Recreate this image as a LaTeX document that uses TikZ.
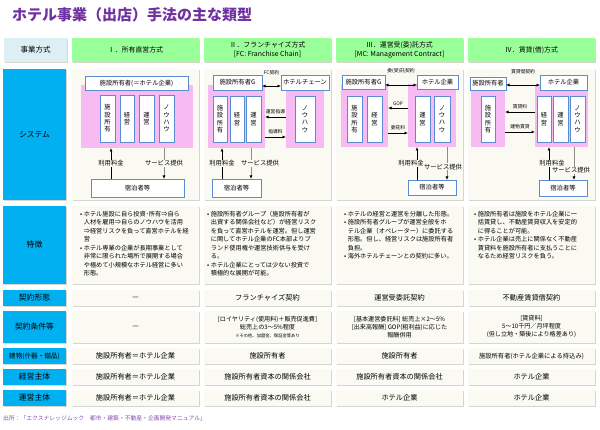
\documentclass[tikz,border=0pt]{standalone}
\usepackage{fontspec}
\setmainfont{Noto Sans CJK JP}
\usetikzlibrary{arrows.meta,shadows}
\definecolor{ttlpurple}{HTML}{7030A0}
\definecolor{hgreen}{HTML}{99FF99}
\definecolor{lblue}{HTML}{DDEEF5}
\definecolor{cyanlbl}{HTML}{00B0F0}
\definecolor{cream}{HTML}{FAFAF2}
\definecolor{pinkbg}{HTML}{F5BBF2}
\definecolor{boxblue}{HTML}{5B8BD0}
\definecolor{shadowg}{HTML}{D6D6CE}
\newcommand\mkbox[7]{\node[#2, minimum width={(#5-#3)*1pt}, minimum height={(#6-#4)*1pt}] (#1) at ({(#3+#5)/2},{(#4+#6)/2}) {#7};}
\newcommand\mkfeat[3]{\node[anchor=north west, inner sep=0pt, font=\fontsize{6.2}{8.5}\selectfont] (#1) at (#2,210) {\begin{tabular}{@{}l@{\hspace{1.5pt}}l@{}}#3\end{tabular}};}
\begin{document}
\begin{tikzpicture}[x=1pt,y=-1pt,
  cellbase/.style={rectangle, inner sep=1pt, outer sep=0pt, align=center,
    drop shadow={shadow xshift=1.3pt, shadow yshift=-1.3pt, fill=shadowg, opacity=1}},
  cell/.style={cellbase, fill=cream, font=\fontsize{7.2}{9}\selectfont},
  jcell/.style={cellbase, fill=cream, font=\fontsize{6.1}{8}\selectfont},
  hdr/.style={cellbase, fill=hgreen, font=\fontsize{6.9}{9}\selectfont},
  hdrz/.style={cellbase, fill=lblue, font=\fontsize{7.5}{9}\selectfont},
  lbl/.style={cellbase, fill=cyanlbl, font=\fontsize{7.8}{9}\selectfont},
  pinkarea/.style={rectangle, fill=pinkbg, inner sep=0pt, outer sep=0pt},
  wbox/.style={rectangle, draw=boxblue, line width=0.6pt, fill=white, inner sep=0pt, outer sep=0pt, font=\fontsize{6.3}{7.4}\selectfont, align=center},
  alab/.style={font=\fontsize{6.3}{7}\selectfont, inner sep=0.6pt, fill=cream},
  slab/.style={font=\fontsize{4.8}{6}\selectfont, inner sep=0.3pt},
  arr/.style={-{Latex[length=3.5pt,width=3pt]}, line width=0.7pt},
  darr/.style={{Latex[length=3.5pt,width=3pt]}-{Latex[length=3.5pt,width=3pt]}, line width=0.7pt},
  garr/.style={-{Latex[length=3.5pt,width=3pt,color=black]}, line width=0.8pt, draw=black!45}]
\useasboundingbox[fill=white] (0,0) rectangle (600,430);

% title
\node[anchor=west, inner sep=0pt, font=\fontsize{15}{17}\selectfont\bfseries, text=ttlpurple] (title) at (12,15) {ホテル事業（出店）手法の主な類型};

% header row
\mkbox{h0}{hdrz}{4}{38}{67}{62}{事業方式}
\mkbox{h1}{hdr}{72}{38}{199}{62}{Ⅰ．所有直営方式}
\mkbox{h2}{hdr}{204}{38}{331}{62}{Ⅱ．フランチャイズ方式\\{[}FC: Franchise Chain]}
\mkbox{h3}{hdr}{336}{38}{463}{62}{Ⅲ．運営受(委)託方式\\{[}MC: Management Contract]}
\mkbox{h4}{hdr}{468}{38}{595}{62}{Ⅳ．賃貸(借)方式}

% left labels
\mkbox{lsys}{lbl}{3}{69}{66}{200}{システム}
\mkbox{lfeat}{lbl}{3}{206}{66}{284}{特徴}
\mkbox{lk}{lbl}{3}{290}{66}{306}{契約形態}
\mkbox{lj}{lbl}{3}{311}{66}{343}{契約条件等}
\mkbox{lt}{lbl,font=\fontsize{6.6}{8}\selectfont}{3}{348}{66}{364}{建物(什器・備品)}
\mkbox{lke}{lbl}{3}{369}{66}{385}{経営主体}
\mkbox{lu}{lbl}{3}{390}{66}{406}{運営主体}

% system cells and feature cells
\mkbox{s1}{cell}{72}{69}{199}{200}{}
\mkbox{s2}{cell}{204}{69}{331}{200}{}
\mkbox{s3}{cell}{336}{69}{463}{200}{}
\mkbox{s4}{cell}{468}{69}{595}{200}{}
\mkbox{f1}{cell}{72}{206}{199}{284}{}
\mkbox{f2}{cell}{204}{206}{331}{284}{}
\mkbox{f3}{cell}{336}{206}{463}{284}{}
\mkbox{f4}{cell}{468}{206}{595}{284}{}

% contract rows
\mkbox{k1}{cell}{72}{290}{199}{306}{—}
\mkbox{k2}{cell}{204}{290}{331}{306}{フランチャイズ契約}
\mkbox{k3}{cell}{336}{290}{463}{306}{運営受委託契約}
\mkbox{k4}{cell}{468}{290}{595}{306}{不動産賃貸借契約}
\mkbox{j1}{cell}{72}{311}{199}{343}{—}
\mkbox{j2}{jcell}{204}{311}{331}{343}{[ロイヤリティ(使用料)＋販売促進費]\\総売上の3～5\%程度\\{\fontsize{4.3}{5.5}\selectfont ※その他、加盟金、保証金等あり}}
\mkbox{j3}{jcell}{336}{311}{463}{343}{[基本運営委託料] 総売上×2～5\%\\{[}出来高報酬] GOP(粗利益)に応じた\\報酬併用}
\mkbox{j4}{jcell}{468}{311}{595}{343}{[賃貸料]\\5～10千円／月坪程度\\(但し立地・築後により格差あり)}
\mkbox{t1}{cell}{72}{348}{199}{364}{施設所有者＝ホテル企業}
\mkbox{t2}{cell}{204}{348}{331}{364}{施設所有者}
\mkbox{t3}{cell}{336}{348}{463}{364}{施設所有者}
\mkbox{t4}{cell,font=\fontsize{6.3}{8}\selectfont}{468}{348}{595}{364}{施設所有者(ホテル企業による持込み)}
\mkbox{e1}{cell}{72}{369}{199}{385}{施設所有者＝ホテル企業}
\mkbox{e2}{cell}{204}{369}{331}{385}{施設所有者資本の関係会社}
\mkbox{e3}{cell}{336}{369}{463}{385}{施設所有者資本の関係会社}
\mkbox{e4}{cell}{468}{369}{595}{385}{ホテル企業}
\mkbox{u1}{cell}{72}{390}{199}{406}{施設所有者＝ホテル企業}
\mkbox{u2}{cell}{204}{390}{331}{406}{施設所有者資本の関係会社}
\mkbox{u3}{cell}{336}{390}{463}{406}{ホテル企業}
\mkbox{u4}{cell}{468}{390}{595}{406}{ホテル企業}

% features
\mkfeat{ft1}{80}{•&ホテル施設に自ら投資･所有⇒自ら\\&人材を雇用⇒自らのノウハウを活用\\&⇒経営リスクを負って直営ホテルを経\\&営\\•&ホテル専業の企業が長期事業として\\&非常に限られた場所で展開する場合\\&や極めて小規模なホテル経営に多い\\&形態。}
\mkfeat{ft2}{207}{•&施設所有者グループ（施設所有者が\\&出資する関係会社など）が経営リスク\\&を負って直営ホテルを運営。但し運営\\&に関してホテル企業のFC本部よりブ\\&ランド使用権や運営技術供与を受け\\&る。\\•&ホテル企業にとっては少ない投資で\\&積極的な展開が可能。}
\mkfeat{ft3}{344}{•&ホテルの経営と運営を分離した形態。\\•&施設所有者グループが運営全般をホ\\&テル企業（オペレーター）に委託する\\&形態。但し、経営リスクは施設所有者\\&負担。\\•&海外ホテルチェーンとの契約に多い。}
\mkfeat{ft4}{474}{•&施設所有者は施設をホテル企業に一\\&括賃貸し、不動産賃貸収入を安定的\\&に得ることが可能。\\•&ホテル企業は売上に関係なく不動産\\&賃貸料を施設所有者に支払うことに\\&なるため経営リスクを負う。}

% ===== system column 1
\mkbox{p1}{pinkarea}{81}{85}{193}{148}{}
\mkbox{o1}{wbox}{85}{76}{188}{90}{施設所有者(＝ホテル企業)}
\mkbox{v1a}{wbox}{100}{95}{115}{142}{施\\設\\所\\有}
\mkbox{v1b}{wbox}{120}{95}{134}{142}{経\\営}
\mkbox{v1c}{wbox}{139}{95}{154}{142}{運\\営}
\mkbox{v1d}{wbox}{159}{95}{174}{142}{ノ\\ウ\\ハ\\ウ}
\mkbox{g1}{wbox}{91}{179}{184}{197}{宿泊者等}
\coordinate (x1u) at (111,0);
\coordinate (x1d) at (164,0);
\draw[arr] (g1.north -| x1u) -- (p1.south -| x1u) node[alab, midway]{利用料金};
\draw[garr] (p1.south -| x1d) -- (g1.north -| x1d) node[alab, midway]{サービス提供};

% ===== system column 2
\mkbox{p2l}{pinkarea}{208}{85}{265}{148}{}
\mkbox{p2r}{pinkarea}{286}{85}{324}{148}{}
\mkbox{o2}{wbox}{213}{75}{262}{90}{施設所有者G}
\mkbox{c2}{wbox}{281}{75}{329}{90}{ホテルチェーン}
\mkbox{v2a}{wbox}{213}{96}{227}{142}{施\\設\\所\\有}
\mkbox{v2b}{wbox}{230}{96}{244}{142}{経\\営}
\mkbox{v2c}{wbox}{246}{96}{261}{142}{運\\営}
\mkbox{v2d}{wbox}{295}{96}{315}{142}{ノ\\ウ\\ハ\\ウ}
\mkbox{g2}{wbox}{212}{179}{261}{197}{宿泊者等}
\coordinate (y2t) at (0,86);
\coordinate (y2a) at (0,117);
\coordinate (y2b) at (0,137);
\coordinate (x2u) at (222,0);
\coordinate (x2d) at (251,0);
\draw[darr] (o2.east |- y2t) -- (c2.west |- y2t) node[slab, midway, yshift=13pt]{FC契約};
\draw[arr] (p2r.west |- y2a) -- (p2l.east |- y2a) node[slab, midway, above=2pt]{運営指導};
\draw[arr] (p2l.east |- y2b) -- (p2r.west |- y2b) node[slab, midway, above=2pt]{指導料};
\draw[arr] (g2.north -| x2u) -- (p2l.south -| x2u) node[alab, midway]{利用料金};
\draw[garr] (p2l.south -| x2d) -- (g2.north -| x2d) node[alab, midway, xshift=9pt]{サービス提供};

% ===== system column 3
\mkbox{p3l}{pinkarea}{341}{84}{388}{147}{}
\mkbox{p3r}{pinkarea}{408}{84}{456}{147}{}
\mkbox{o3}{wbox}{342}{75}{385}{89}{施設所有者G}
\mkbox{c3}{wbox}{417}{75}{458}{89}{ホテル企業}
\mkbox{v3a}{wbox}{347}{96}{362}{142}{施\\設\\所\\有}
\mkbox{v3b}{wbox}{367}{96}{382}{142}{経\\営}
\mkbox{v3c}{wbox}{415}{96}{430}{142}{運\\営}
\mkbox{v3d}{wbox}{434}{96}{450}{142}{ノ\\ウ\\ハ\\ウ}
\mkbox{g3}{wbox}{408}{180}{456}{195}{宿泊者等}
\coordinate (y3t) at (0,85);
\coordinate (y3a) at (0,108);
\coordinate (y3b) at (0,133);
\coordinate (x3u) at (417,0);
\coordinate (x3d) at (447,0);
\draw[darr] (o3.east |- y3t) -- (c3.west |- y3t) node[slab, midway, yshift=14pt]{委(受)託契約};
\draw[arr] (p3r.west |- y3a) -- (p3l.east |- y3a) node[slab, midway, above=2pt]{GOP};
\draw[arr] (p3l.east |- y3b) -- (p3r.west |- y3b) node[slab, midway, above=2pt]{委託料};
\draw[arr] (g3.north -| x3u) -- (p3r.south -| x3u) node[alab, midway, xshift=-6pt]{利用料金};
\draw[garr] (p3r.south -| x3d) -- (g3.north -| x3d) node[alab, pos=0.6, xshift=-4pt]{サービス提供};

% ===== system column 4
\mkbox{p4l}{pinkarea}{471}{88}{505}{147}{}
\mkbox{p4r}{pinkarea}{535}{85}{588}{147}{}
\mkbox{o4}{wbox}{470}{77}{506}{90}{施設所有者}
\mkbox{c4}{wbox}{540}{75}{587}{90}{ホテル企業}
\mkbox{v4a}{wbox}{481}{96}{495}{142}{施\\設\\所\\有}
\mkbox{v4b}{wbox}{537}{96}{551}{142}{経\\営}
\mkbox{v4c}{wbox}{553}{96}{568}{142}{運\\営}
\mkbox{v4d}{wbox}{570}{96}{585}{142}{ノ\\ウ\\ハ\\ウ}
\mkbox{g4}{wbox}{539}{180}{587}{196}{宿泊者等}
\coordinate (y4t) at (0,85);
\coordinate (y4a) at (0,112);
\coordinate (y4b) at (0,132);
\coordinate (x4u) at (549,0);
\coordinate (x4d) at (574,0);
\draw[darr] (o4.east |- y4t) -- (c4.west |- y4t) node[slab, midway, yshift=13pt]{賃貸借契約};
\draw[arr] (p4r.west |- y4a) -- (p4l.east |- y4a) node[slab, midway, above=2pt]{賃貸料};
\draw[arr] (p4l.east |- y4b) -- (p4r.west |- y4b) node[slab, midway, above=2pt]{建物賃貸};
\draw[arr] (g4.north -| x4u) -- (p4r.south -| x4u) node[alab, midway, xshift=3pt]{利用料金};
\draw[garr] (p4r.south -| x4d) -- (g4.north -| x4d) node[alab, pos=0.7, xshift=-3pt]{サービス提供};

% source
\node[anchor=west, inner sep=0pt, font=\fontsize{5.8}{7}\selectfont, text=ttlpurple!85] (src) at (3,418) {出所：「エクスナレッジムック　都市・建築・不動産・企画開発マニュアル」};
\end{tikzpicture}
\end{document}
